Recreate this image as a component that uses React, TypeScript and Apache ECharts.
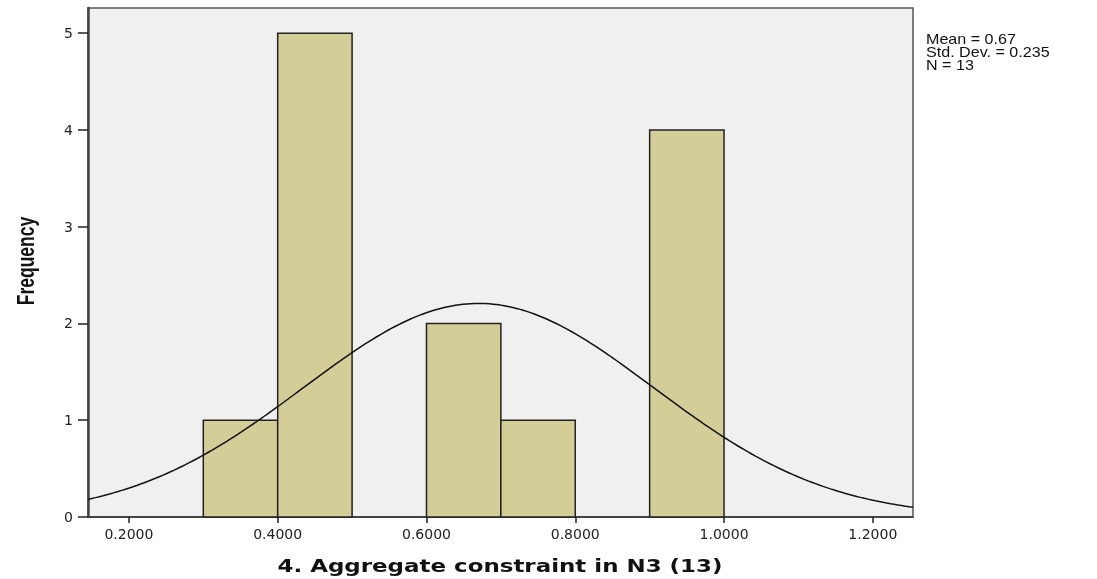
import React, { useEffect, useRef } from "react";
import * as echarts from "echarts";

const binStarts = [0.3, 0.4, 0.6, 0.7, 0.9];
const binWidth = 0.1;
const frequencies = [1, 5, 2, 1, 4];
const xTicks = [0.2, 0.4, 0.6, 0.8, 1.0, 1.2];
const yTicks = [0, 1, 2, 3, 4, 5];
const statMean = 0.67;
const statSd = 0.235;
const statN = 13;
const xMin = 0.145;
const xMax = 1.254;
const yMax = 5.26;

export default function App() {
  const ref = useRef<HTMLDivElement>(null);
  useEffect(() => {
    if (!ref.current) return;
    const chart = echarts.init(ref.current, undefined, { renderer: "svg" });
    const bars = binStarts.map((s, i) => [s, s + binWidth, frequencies[i]]);
    const curve: number[][] = [];
    const steps = 220;
    for (let i = 0; i <= steps; i++) {
      const x = xMin + ((xMax - xMin) * i) / steps;
      const z = (x - statMean) / statSd;
      const y = (statN * binWidth) / (statSd * Math.sqrt(2 * Math.PI)) * Math.exp(-0.5 * z * z);
      curve.push([x, y]);
    }
    chart.setOption({
      animation: false,
      grid: {
        left: 88,
        right: 184,
        top: 8,
        bottom: 62,
        show: true,
        backgroundColor: "#f0f0f0",
        borderColor: "#555",
        borderWidth: 1.5,
      },
      xAxis: {
        type: "value",
        min: xMin,
        max: xMax,
        splitLine: { show: false },
        axisLine: { show: true, lineStyle: { color: "#333", width: 1.5 } },
        axisTick: { show: true, length: 6, customValues: xTicks, lineStyle: { color: "#222", width: 1.5 } },
        axisLabel: {
          customValues: xTicks,
          formatter: (v: number) => v.toFixed(4),
          fontFamily: "DejaVu Sans",
          fontSize: 14,
          color: "#222",
          margin: 10,
        },
      },
      yAxis: {
        type: "value",
        min: 0,
        max: yMax,
        splitLine: { show: false },
        axisLine: { show: true, lineStyle: { color: "#444", width: 2.5 } },
        axisTick: { show: true, length: 10, customValues: yTicks, lineStyle: { color: "#222", width: 1.5 } },
        axisLabel: {
          customValues: yTicks,
          formatter: (v: number) => String(v),
          fontFamily: "DejaVu Sans",
          fontSize: 14,
          color: "#222",
          margin: 15,
        },
      },
      graphic: [
        {
          type: "text",
          x: 926,
          y: 32,
          scaleX: 1.15,
          style: {
            text: `Mean = ${statMean.toFixed(2)}\nStd. Dev. = ${statSd}\nN = ${statN}`,
            font: "14px 'Liberation Sans', Arial, sans-serif",
            fill: "#111",
            lineHeight: 13,
          },
        },
        {
          type: "text",
          x: 500,
          y: 566,
          scaleX: 1.35,
          style: {
            text: "4. Aggregate constraint in N3 (13)",
            font: "bold 17px 'DejaVu Sans', sans-serif",
            fill: "#111",
            align: "center",
            verticalAlign: "middle",
          },
        },
        {
          type: "text",
          x: 25,
          y: 261,
          rotation: Math.PI / 2,
          scaleX: 0.73,
          style: {
            text: "Frequency",
            font: "bold 24px 'Liberation Sans', sans-serif",
            fill: "#111",
            align: "center",
            verticalAlign: "middle",
          },
        },
      ],
      series: [
        {
          type: "custom",
          data: bars,
          encode: { x: [0, 1], y: 2 },
          renderItem: (params: any, api: any) => {
            const p0 = api.coord([api.value(0), api.value(2)]);
            const p1 = api.coord([api.value(1), 0]);
            return {
              type: "rect",
              shape: { x: p0[0], y: p0[1], width: p1[0] - p0[0], height: p1[1] - p0[1] },
              style: { fill: "#d3ce98", stroke: "#222", lineWidth: 1.5 },
            };
          },
          z: 2,
        },
        {
          type: "line",
          data: curve,
          showSymbol: false,
          symbol: "none",
          smooth: false,
          lineStyle: { color: "#111", width: 1.5 },
          z: 3,
        },
      ],
    });
    return () => chart.dispose();
  }, []);
  return <div ref={ref} style={{ position: "fixed", left: 0, top: 0, width: 1097, height: 579 }} />;
}
